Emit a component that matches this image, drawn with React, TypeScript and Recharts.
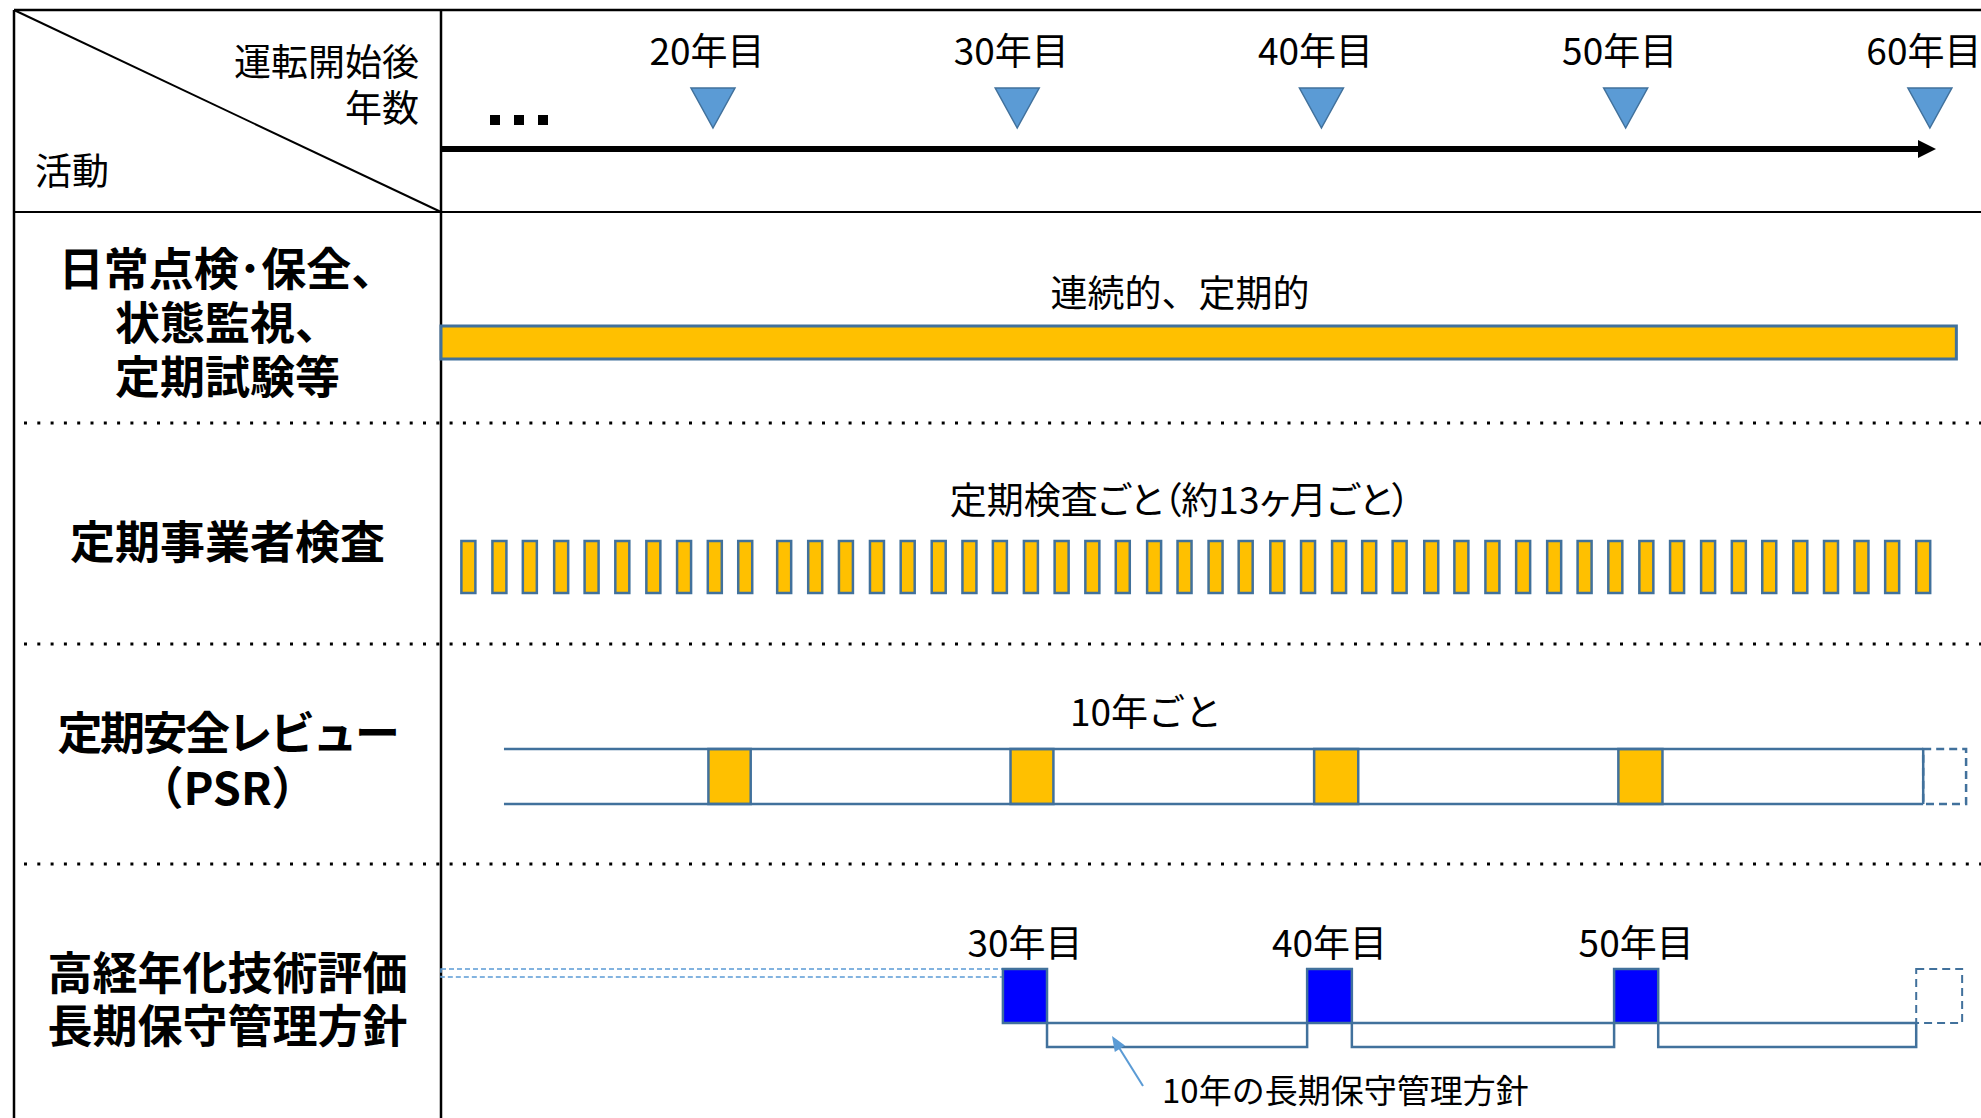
import React from 'react';
import {
  ComposedChart,
  XAxis,
  YAxis,
  Scatter,
  ReferenceArea,
  ReferenceLine,
} from 'recharts';

const W = 1981;
const H = 1118;
const FONT = '"Noto Sans CJK JP", "Noto Sans", sans-serif';

// Colours
const GOLD = '#FFC000';
const EDGE = '#41719C';
const MARK = '#5B9BD5';
const BLUE = '#0000FF';

// Years after start of operation shown on the timeline
const MILESTONE_YEARS = [20, 30, 40, 50, 60];
const MILESTONE_LABELS = ['20年目', '30年目', '40年目', '50年目', '60年目'];

// Continuous / periodic activities run across the whole period
const CONTINUOUS = [11.06, 60.87];

// Periodic inspections, roughly every 13 months
const INSPECTION_YEARS = [
  11.96, 12.98, 13.98, 15.01, 16.01, 17.02, 18.04, 19.05, 20.06, 21.06,
  22.34, 23.36, 24.37, 25.39, 26.4, 27.42, 28.43, 29.43, 30.45, 31.46,
  32.47, 33.47, 34.5, 35.5, 36.52, 37.51, 38.55, 39.56, 40.58, 41.57,
  42.57, 43.61, 44.6, 45.62, 46.63, 47.65, 48.65, 49.66, 50.68, 51.69,
  52.71, 53.72, 54.72, 55.74, 56.75, 57.75, 58.76, 59.78,
];

// Periodic safety review, every 10 years
const PSR_SPAN = [13.13, 59.78];
const PSR_FROM = [19.85, 29.78, 39.76, 49.76];
const PSR_TO = [21.24, 31.19, 41.21, 51.21];
const PSR_NEXT = [59.78, 61.19];

// Ageing evaluation / long-term maintenance plan
const PLM_LABELS = ['30年目', '40年目', '50年目'];
const PLM_FROM = [29.53, 39.53, 49.62];
const PLM_TO = [30.98, 41.0, 51.07];
const PLM_NEXT = [59.55, 61.06];
const PLM_PRE = [11.06, 29.53];

const X_DOMAIN = [11.06, 61.68];
const TIMELINE_END = 60.2;

// Vertical layout (pixels)
const Y = {
  top: 10,
  headerBottom: 212,
  rules: [423, 644, 864],
  tri: 88,
  timeline: 149,
  contTop: 326,
  contBottom: 359,
  insp: 567,
  psrTop: 749,
  psrBottom: 804,
  plmTop: 969,
  plmDash: 977,
  plmBottom: 1023,
  planBottom: 1047,
};
const LEFT_X = 14;
const COL_X = 441;

const txt = (size: number, weight = 400) => ({
  fontFamily: FONT,
  fontSize: size,
  fontWeight: weight,
  fill: '#000',
});

function MilestoneMark(props: any) {
  const { cx, cy, payload } = props;
  return (
    <g>
      <text x={cx - 6} y={cy - 39} textAnchor="middle" dominantBaseline="central" {...txt(37)}>
        {payload.label}
      </text>
      <polygon
        points={`${cx - 22},${cy} ${cx + 22},${cy} ${cx},${cy + 40}`}
        fill={MARK}
        stroke={EDGE}
        strokeWidth={1.5}
      />
    </g>
  );
}

function InspectionMark(props: any) {
  const { cx, cy } = props;
  return (
    <rect x={cx - 7} y={cy - 26} width={14} height={52} fill={GOLD} stroke={EDGE} strokeWidth={2.5} />
  );
}

function TimelineArrow(props: any) {
  const { x1, y1, x2 } = props;
  return (
    <g>
      <line x1={x1} y1={y1} x2={x2 - 14} y2={y1} stroke="#000" strokeWidth={6} />
      <polygon points={`${x2},${y1} ${x2 - 18},${y1 - 9} ${x2 - 18},${y1 + 9}`} fill="#000" />
    </g>
  );
}

function arrowHead(tx: number, ty: number, fx: number, fy: number, len: number, half: number) {
  const dx = tx - fx;
  const dy = ty - fy;
  const d = Math.hypot(dx, dy);
  const ux = dx / d;
  const uy = dy / d;
  const bx = tx - ux * len;
  const by = ty - uy * len;
  return `${tx},${ty} ${bx - uy * half},${by + ux * half} ${bx + uy * half},${by - ux * half}`;
}

// Multi-line heading drawn as one text element
function Lines({ x, y, gap, lines, style, anchor = 'middle' }: any) {
  return (
    <text x={x} y={y} textAnchor={anchor} dominantBaseline="central" {...style}>
      {lines.map((line: any, i: number) => {
        const [s, spacing] = Array.isArray(line) ? line : [line, undefined];
        return (
          <tspan key={i} x={x} dy={i === 0 ? 0 : gap} letterSpacing={spacing}>
            {s}
          </tspan>
        );
      })}
    </text>
  );
}

// Table frame, row headings and captions
function TableFrame() {
  const bold = txt(45, 700);
  const colMid = (LEFT_X + COL_X) / 2;
  return (
    <svg width={W} height={H} style={{ position: 'absolute', left: 0, top: 0 }}>
      <rect width={W} height={H} fill="#fff" />
      <line x1={LEFT_X} y1={Y.top} x2={W} y2={Y.top} stroke="#000" strokeWidth={2.5} />
      <line x1={LEFT_X} y1={Y.headerBottom} x2={W} y2={Y.headerBottom} stroke="#000" strokeWidth={2} />
      <line x1={LEFT_X} y1={Y.top} x2={LEFT_X} y2={H} stroke="#000" strokeWidth={2.5} />
      <line x1={COL_X} y1={Y.top} x2={COL_X} y2={H} stroke="#000" strokeWidth={2.5} />
      <line x1={LEFT_X} y1={Y.top} x2={COL_X} y2={Y.headerBottom} stroke="#000" strokeWidth={2} />
      {Y.rules.map((y) => (
        <line key={y} x1={LEFT_X + 10} y1={y} x2={W} y2={y} stroke="#000" strokeWidth={3} strokeDasharray="3 10.3" />
      ))}

      {/* header cell */}
      <Lines x={419} y={60} gap={46} anchor="end" lines={['運転開始後', '年数']} style={txt(37)} />
      <text x={35} y={169} dominantBaseline="central" {...txt(37)}>活動</text>
      {[490, 514, 538].map((x) => (
        <rect key={x} x={x} y={115} width={10} height={10} fill="#000" />
      ))}

      {/* activity headings */}
      <Lines x={colMid} y={266} gap={54} lines={['日常点検･保全、', '状態監視、', '定期試験等']} style={bold} />
      <Lines x={colMid} y={539} gap={0} lines={['定期事業者検査']} style={bold} />
      <Lines x={colMid} y={730} gap={55} lines={[['定期安全レビュー', -2.5], '（PSR）']} style={bold} />
      <Lines x={colMid} y={970} gap={53} lines={['高経年化技術評価', '長期保守管理方針']} style={bold} />

      {/* row captions */}
      <g textAnchor="middle" dominantBaseline="central">
        <text x={1180} y={291} {...txt(37)}>連続的、定期的</text>
        <text x={1180} y={498} {...txt(37)} style={{ fontFeatureSettings: '"palt"' }}>
          定期検査ごと（約13ヶ月ごと）
        </text>
        <text x={1146} y={710} {...txt(37)}>10年ごと</text>
      </g>
    </svg>
  );
}

function Annotation() {
  return (
    <svg width={W} height={H} style={{ position: 'absolute', left: 0, top: 0, pointerEvents: 'none' }}>
      <line x1={1143} y1={1086} x2={1118} y2={1046} stroke={MARK} strokeWidth={2} />
      <polygon points={arrowHead(1112, 1036, 1143, 1086, 15, 6)} fill={MARK} />
      <text x={1162} y={1089} dominantBaseline="central" {...txt(33)}>10年の長期保守管理方針</text>
    </svg>
  );
}

export default function App() {
  const milestones = MILESTONE_YEARS.map((x, i) => ({ x, y: Y.tri, label: MILESTONE_LABELS[i] }));
  const inspections = INSPECTION_YEARS.map((x) => ({ x, y: Y.insp }));
  const gaps = PLM_FROM.slice(1).concat(PLM_NEXT[0]).map((to, i) => [PLM_TO[i], to]);

  return (
    <div style={{ position: 'absolute', left: 0, top: 0, width: W, height: H, background: '#fff' }}>
      <TableFrame />
      <div style={{ position: 'absolute', left: 0, top: 0 }}>
        <ComposedChart width={W} height={H} margin={{ top: 0, right: 0, bottom: 0, left: COL_X }}>
          <XAxis type="number" dataKey="x" domain={X_DOMAIN} allowDataOverflow hide />
          <YAxis type="number" dataKey="y" domain={[0, H]} reversed allowDataOverflow hide />

          {/* timeline */}
          <ReferenceLine
            segment={[{ x: X_DOMAIN[0], y: Y.timeline }, { x: TIMELINE_END, y: Y.timeline }]}
            ifOverflow="visible"
            shape={TimelineArrow}
          />
          <Scatter data={milestones} dataKey="y" shape={MilestoneMark} isAnimationActive={false} />

          {/* daily checks, condition monitoring, periodic tests */}
          <ReferenceArea
            x1={CONTINUOUS[0]}
            x2={CONTINUOUS[1]}
            y1={Y.contTop}
            y2={Y.contBottom}
            fill={GOLD}
            fillOpacity={1}
            stroke={EDGE}
            strokeWidth={3}
            ifOverflow="visible"
          />

          {/* periodic inspections */}
          <Scatter data={inspections} dataKey="y" shape={InspectionMark} isAnimationActive={false} />

          {/* PSR strip */}
          <ReferenceLine
            segment={[{ x: PSR_SPAN[0], y: Y.psrTop }, { x: PSR_SPAN[1], y: Y.psrTop }]}
            stroke={EDGE}
            strokeWidth={2.5}
          />
          <ReferenceLine
            segment={[{ x: PSR_SPAN[0], y: Y.psrBottom }, { x: PSR_SPAN[1], y: Y.psrBottom }]}
            stroke={EDGE}
            strokeWidth={2.5}
          />
          <ReferenceLine
            segment={[{ x: PSR_SPAN[1], y: Y.psrTop }, { x: PSR_SPAN[1], y: Y.psrBottom }]}
            stroke={EDGE}
            strokeWidth={2.5}
          />
          {PSR_FROM.map((from, i) => (
            <ReferenceArea
              key={`psr-${i}`}
              x1={from}
              x2={PSR_TO[i]}
              y1={Y.psrTop}
              y2={Y.psrBottom}
              fill={GOLD}
              fillOpacity={1}
              stroke={EDGE}
              strokeWidth={2.5}
            />
          ))}
          <ReferenceArea
            x1={PSR_NEXT[0]}
            x2={PSR_NEXT[1]}
            y1={Y.psrTop}
            y2={Y.psrBottom}
            fill="none"
            stroke={EDGE}
            strokeWidth={2.5}
            strokeDasharray="8 5"
          />

          {/* ageing evaluation and long-term maintenance plan */}
          <ReferenceArea
            x1={PLM_PRE[0]}
            x2={PLM_PRE[1]}
            y1={Y.plmTop}
            y2={Y.plmDash}
            fill="none"
            stroke={MARK}
            strokeWidth={1.5}
            strokeDasharray="5 3"
            ifOverflow="visible"
          />
          {gaps.map(([from, to], i) => (
            <ReferenceArea
              key={`plan-${i}`}
              x1={from}
              x2={to}
              y1={Y.plmBottom}
              y2={Y.planBottom}
              fill="none"
              stroke={EDGE}
              strokeWidth={2.5}
            />
          ))}
          {PLM_FROM.map((from, i) => (
            <ReferenceArea
              key={`plm-${i}`}
              x1={from}
              x2={PLM_TO[i]}
              y1={Y.plmTop}
              y2={Y.plmBottom}
              fill={BLUE}
              fillOpacity={1}
              stroke={EDGE}
              strokeWidth={2.5}
              label={{
                value: PLM_LABELS[i],
                position: 'top',
                offset: 12,
                fontSize: 37,
                fontFamily: FONT,
                fill: '#000',
              }}
            />
          ))}
          <ReferenceArea
            x1={PLM_NEXT[0]}
            x2={PLM_NEXT[1]}
            y1={Y.plmTop}
            y2={Y.plmBottom}
            fill="none"
            stroke={EDGE}
            strokeWidth={2}
            strokeDasharray="8 5"
          />
        </ComposedChart>
      </div>
      <Annotation />
    </div>
  );
}
